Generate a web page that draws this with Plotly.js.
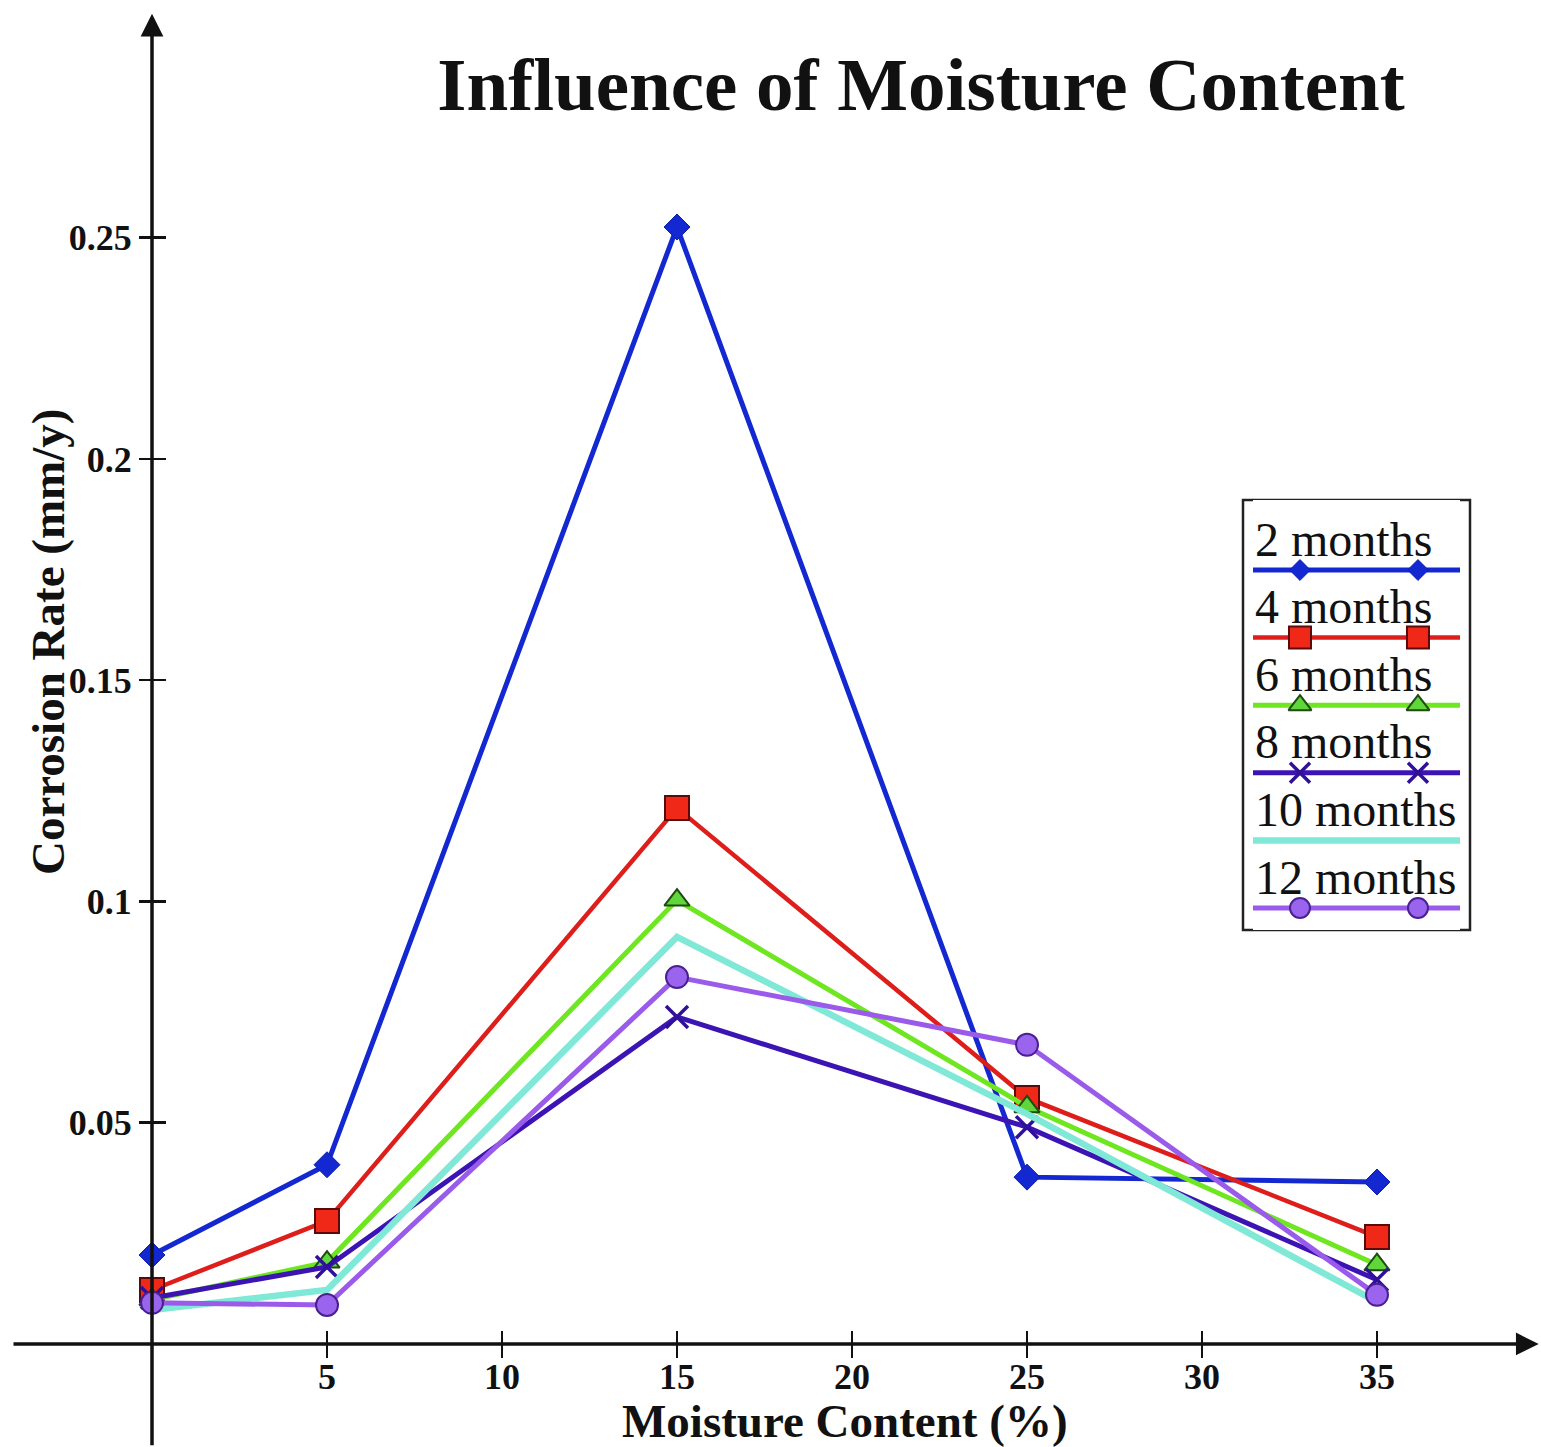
<!DOCTYPE html>
<html>
<head>
<meta charset="utf-8">
<script src="https://cdn.plot.ly/plotly-3.0.1.min.js"></script>
<style>html,body{margin:0;padding:0;background:#fff;} #chart{width:1541px;height:1447px;}</style>
</head>
<body>
<div id="chart"></div>
<script>
// ---- data ----
const moisture = [0, 5, 15, 25, 35];
const cr2  = [0.0201, 0.0405, 0.2524, 0.0377, 0.0366];
const cr4  = [0.0122, 0.0278, 0.1211, 0.0556, 0.0242];
const cr6  = [0.0100, 0.0185, 0.1003, 0.0536, 0.0179];
const cr8  = [0.0104, 0.0174, 0.0739, 0.0490, 0.0145];
const cr10 = [0.0077, 0.0122, 0.0920, 0.0520, 0.0095];
const cr12 = [0.0093, 0.0088, 0.0829, 0.0676, 0.0111];
const seriesNames = ["2 months", "4 months", "6 months", "8 months", "10 months", "12 months"];
const xTickVals = [5, 10, 15, 20, 25, 30, 35];
const xTickText = ["5", "10", "15", "20", "25", "30", "35"];
const yTickVals = [0.05, 0.1, 0.15, 0.2, 0.25];
const yTickText = ["0.05", "0.1", "0.15", "0.2", "0.25"];

// ---- styles ----
const W = 1541, H = 1447;
const serif = "Liberation Serif, Times New Roman, serif";
const xRange = [-4.343, 39.686];
const yRange = [-0.02328, 0.3037];
const styles = [
  {color: "#1428d2", width: 5, symbol: "diamond", size: 20, fill: "#1428d2", lc: "#1020b0", lw: 1, lsize: 16},
  {color: "#de1e1a", width: 4.5, symbol: "square", size: 24, fill: "#f02818", lc: "#5a0a08", lw: 2, lsize: 22},
  {color: "#6ee620", width: 5, symbol: "triangle-up", size: 22, fill: "#5fd63a", lc: "#1f4a10", lw: 2, lsize: 20},
  {color: "#3c14b4", width: 5, symbol: "x-thin", size: 22, fill: "#3c14b4", lc: "#30109a", lw: 3.5, lsize: 20},
  {color: "#80e8d6", width: 6.5, symbol: null},
  {color: "#9a5aea", width: 5, symbol: "circle", size: 22, fill: "#9a64ee", lc: "#4a2090", lw: 2, lsize: 20}
];
const seriesData = [cr2, cr4, cr6, cr8, cr10, cr12];

const traces = seriesData.map((ys, i) => {
  const s = styles[i];
  const t = {
    type: "scatter", x: moisture, y: ys, name: seriesNames[i],
    mode: s.symbol ? "lines+markers" : "lines",
    line: {color: s.color, width: s.width},
    showlegend: false, cliponaxis: false
  };
  if (s.symbol) t.marker = {symbol: s.symbol, size: s.size, color: s.fill, opacity: 1,
    line: {color: s.lc, width: s.lw}};
  return t;
});

// empty trace to register the overlay axes used for crossing tick marks
traces.push({type: "scatter", x: [], y: [], xaxis: "x2", yaxis: "y2", showlegend: false, hoverinfo: "skip"});

// ---- custom legend (line sample under each label) ----
const lgBox = {x0: 1243, x1: 1470, y0: 500, y1: 930};
const lgLine0 = 570, lgStep = 67.6;
const lgSampleX = [0, 0.227, 0.797, 1];
seriesNames.forEach((n, i) => {
  const s = styles[i];
  const t = {
    type: "scatter", x: lgSampleX, y: lgSampleX.map(() => i), xaxis: "x3", yaxis: "y3",
    mode: s.symbol ? "lines+markers" : "lines",
    line: {color: s.color, width: s.width}, showlegend: false, hoverinfo: "skip", cliponaxis: false
  };
  if (s.symbol) t.marker = {symbol: s.symbol, size: [0, s.lsize, s.lsize, 0], color: s.fill, opacity: 1,
    line: {color: s.lc, width: s.lw}};
  traces.push(t);
});

const px = v => v / W;
const py = v => 1 - v / H;
const xPos = (0 - xRange[0]) / (xRange[1] - xRange[0]);
const yPos = (0 - yRange[0]) / (yRange[1] - yRange[0]);

const tickFont = {family: serif, size: 36, color: "#111", weight: "bold"};

const annotations = [
  // x axis line with arrow
  {x: 39.62, y: 0, ax: -4.0, ay: 0, xref: "x", yref: "y", axref: "x", ayref: "y",
   showarrow: true, arrowhead: 2, arrowsize: 1.3, arrowwidth: 3.5, arrowcolor: "#111", text: "", standoff: 0},
  // y axis line with arrow
  {x: 0, y: 0.3006, ax: 0, ay: -0.0232, xref: "x", yref: "y", axref: "x", ayref: "y",
   showarrow: true, arrowhead: 2, arrowsize: 1.3, arrowwidth: 3.5, arrowcolor: "#111", text: "", standoff: 0},
  // axis titles
  {text: "Moisture Content (%)", xref: "paper", yref: "paper", x: px(845), y: py(1421),
   xanchor: "center", yanchor: "middle", showarrow: false,
   font: {family: serif, size: 47, color: "#111", weight: "bold"}},
  {text: "Corrosion Rate (mm/y)", xref: "paper", yref: "paper", x: px(48), y: py(642),
   xanchor: "center", yanchor: "middle", showarrow: false, textangle: -90,
   font: {family: serif, size: 47, color: "#111", weight: "bold"}}
];
seriesNames.forEach((n, i) => {
  annotations.push({text: n, xref: "paper", yref: "paper", x: px(1253), y: py(lgLine0 + i * lgStep - 31),
    xanchor: "left", yanchor: "middle", showarrow: false,
    font: {family: serif, size: 48, color: "#111"}});
});

const lgTop = py(lgBox.y0), lgBot = py(lgBox.y1);
const rowsSpan = (lgBox.y1 - lgBox.y0) / lgStep;
const firstRow = (lgLine0 - lgBox.y0) / lgStep;

const layout = {
  width: W, height: H,
  margin: {l: 0, r: 0, t: 0, b: 0},
  paper_bgcolor: "#fff", plot_bgcolor: "#fff",
  showlegend: false,
  title: {text: "Influence of Moisture Content", x: px(921), xanchor: "center",
          y: py(84), yanchor: "middle", xref: "paper",
          font: {family: serif, size: 75, color: "#111", weight: "bold"}},
  xaxis: {range: xRange, showgrid: false, zeroline: false, showline: false,
          anchor: "free", position: yPos, tickmode: "array", tickvals: xTickVals, ticktext: xTickText,
          ticks: "outside", ticklen: 13, tickwidth: 2.5, tickcolor: "#111", tickfont: tickFont,
          ticklabelstandoff: -12},
  yaxis: {range: yRange, showgrid: false, zeroline: false, showline: false,
          anchor: "free", position: xPos, tickmode: "array", tickvals: yTickVals, ticktext: yTickText,
          ticks: "outside", ticklen: 13, tickwidth: 2.5, tickcolor: "#111", tickfont: tickFont},
  xaxis2: {overlaying: "x", matches: "x", showgrid: false, zeroline: false, showline: false,
           anchor: "free", position: yPos, tickmode: "array", tickvals: xTickVals,
           ticks: "inside", ticklen: 13, tickwidth: 2.5, tickcolor: "#111", showticklabels: false},
  yaxis2: {overlaying: "y", matches: "y", showgrid: false, zeroline: false, showline: false,
           anchor: "free", position: xPos, tickmode: "array", tickvals: yTickVals,
           ticks: "inside", ticklen: 13, tickwidth: 2.5, tickcolor: "#111", showticklabels: false},
  xaxis3: {domain: [px(1253), px(1460)], range: [0, 1], anchor: "y3", visible: false, fixedrange: true},
  yaxis3: {domain: [lgBot, lgTop], range: [rowsSpan - firstRow, -firstRow], anchor: "x3", visible: false, fixedrange: true},
  shapes: [
    {type: "rect", xref: "paper", yref: "paper", x0: px(lgBox.x0), x1: px(lgBox.x1), y0: lgBot, y1: lgTop,
     line: {color: "#222", width: 2.5}, fillcolor: "#fff", layer: "below"}
  ],
  annotations: annotations
};

Plotly.newPlot("chart", traces, layout, {staticPlot: true});
</script>
</body>
</html>
